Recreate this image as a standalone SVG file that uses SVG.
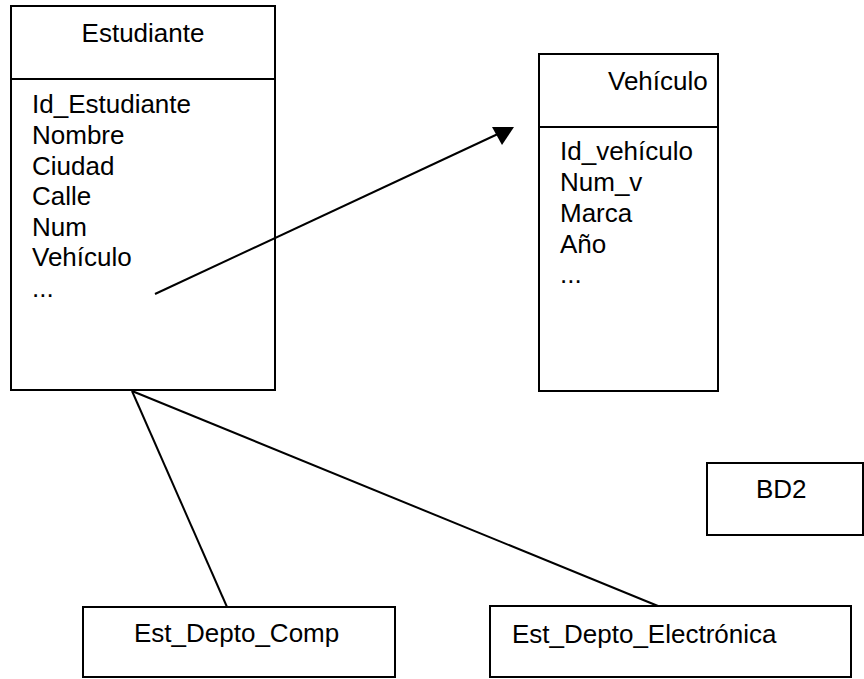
<svg xmlns="http://www.w3.org/2000/svg" width="864" height="679" viewBox="0 0 864 679">
<style>
.box{fill:#fff;stroke:#000;stroke-width:2}
.ln{fill:none;stroke:#000;stroke-width:2}
text{font-family:"Liberation Sans",Arial,sans-serif;font-size:26px;fill:#000}
</style>
<rect width="864" height="679" fill="#fff"/>
<g id="estudiante">
<rect class="box" x="11" y="6" width="264" height="384"/>
<line class="ln" x1="11" y1="79" x2="275" y2="79"/>
<text x="143" y="42" text-anchor="middle">Estudiante</text>
<text x="32" y="113">Id_Estudiante</text>
<text x="32" y="144">Nombre</text>
<text x="32" y="175">Ciudad</text>
<text x="32" y="205">Calle</text>
<text x="32" y="236">Num</text>
<text x="32" y="266">Vehículo</text>
<text x="32" y="297">...</text>
</g>
<g id="vehiculo">
<rect class="box" x="539" y="54" width="179" height="337"/>
<line class="ln" x1="539" y1="127" x2="718" y2="127"/>
<text x="608" y="90">Vehículo</text>
<text x="560" y="160">Id_vehículo</text>
<text x="560" y="191">Num_v</text>
<text x="560" y="222">Marca</text>
<text x="560" y="253">Año</text>
<text x="560" y="283">...</text>
</g>
<g id="bd2">
<rect class="box" x="707" y="463" width="156" height="72"/>
<text x="756" y="498">BD2</text>
</g>
<g id="est_depto_comp">
<rect class="box" x="83" y="607" width="312" height="70"/>
<text x="134" y="642">Est_Depto_Comp</text>
</g>
<g id="est_depto_electronica">
<rect class="box" x="490" y="606" width="361" height="71"/>
<text x="512" y="643">Est_Depto_Electrónica</text>
</g>
<g id="connectors">
<line class="ln" x1="155" y1="294" x2="500" y2="133"/>
<polygon points="514,127 492,127 502,145" fill="#000"/>
<line class="ln" x1="132" y1="391" x2="227" y2="607"/>
<line class="ln" x1="132" y1="391" x2="658" y2="606"/>
</g>
</svg>
